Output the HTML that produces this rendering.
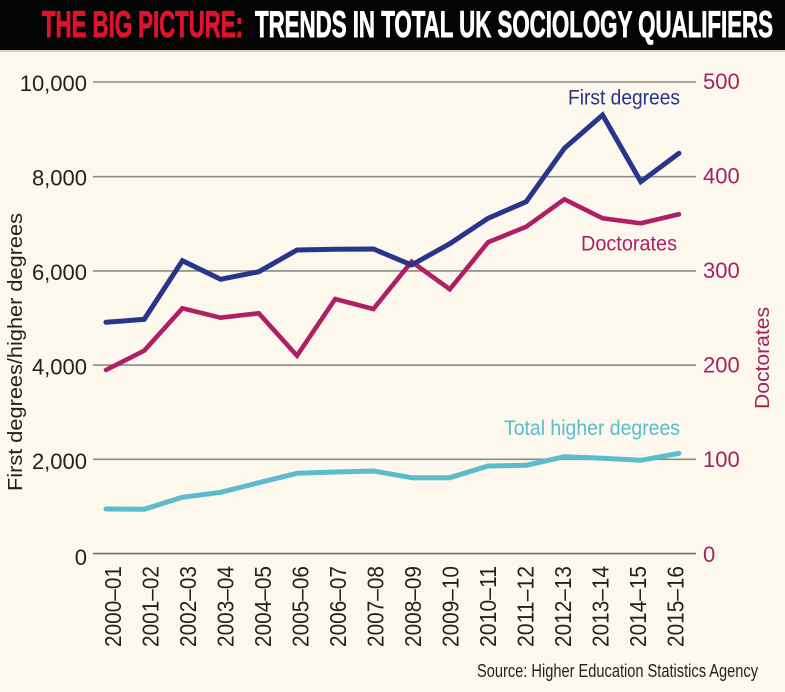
<!DOCTYPE html>
<html><head><meta charset="utf-8"><style>
html,body{margin:0;padding:0;background:#fcf8ee;}
svg{display:block;}
</style></head><body>
<svg width="785" height="692" viewBox="0 0 785 692" xmlns="http://www.w3.org/2000/svg">
<rect x="0" y="0" width="785" height="692" fill="#fcf8ee"/>
<rect x="0" y="0" width="785" height="50" fill="#050505"/>
<rect x="0" y="50" width="785" height="2" fill="#d6cfbf"/>
<text x="42" y="37" font-family="Liberation Sans, sans-serif" font-weight="bold" font-size="37" fill="#e3112c" stroke="#e3112c" stroke-width="0.9" textLength="201" lengthAdjust="spacingAndGlyphs">THE BIG PICTURE:</text>
<text x="255" y="37" font-family="Liberation Sans, sans-serif" font-weight="bold" font-size="37" fill="#ffffff" stroke="#ffffff" stroke-width="0.9" textLength="518" lengthAdjust="spacingAndGlyphs">TRENDS IN TOTAL UK SOCIOLOGY QUALIFIERS</text>

<g stroke="#8c8a86" stroke-width="1.6">
<line x1="93" y1="82" x2="696" y2="82"/>
<line x1="93" y1="176.7" x2="696" y2="176.7"/>
<line x1="93" y1="270.9" x2="696" y2="270.9"/>
<line x1="93" y1="365.1" x2="696" y2="365.1"/>
<line x1="93" y1="459.3" x2="696" y2="459.3"/>
<line x1="93" y1="553.6" x2="696" y2="553.6" stroke="#6e6c68"/>
</g>

<g font-family="Liberation Sans, sans-serif" font-size="22" fill="#231f20" text-anchor="end">
<text x="87" y="91">10,000</text>
<text x="87" y="185.5">8,000</text>
<text x="87" y="280">6,000</text>
<text x="87" y="374.5">4,000</text>
<text x="87" y="469">2,000</text>
<text x="87" y="565">0</text>
</g>
<g font-family="Liberation Sans, sans-serif" font-size="22" fill="#a4235e">
<text x="703" y="89">500</text>
<text x="703" y="183.5">400</text>
<text x="703" y="278">300</text>
<text x="703" y="372.5">200</text>
<text x="703" y="467">100</text>
<text x="703" y="562">0</text>
</g>

<text transform="translate(22,352) rotate(-90)" text-anchor="middle" font-family="Liberation Sans, sans-serif" font-size="20" fill="#231f20" textLength="278" lengthAdjust="spacingAndGlyphs">First degrees/higher degrees</text>
<text transform="translate(769,358) rotate(-90)" text-anchor="middle" font-family="Liberation Sans, sans-serif" font-size="20" fill="#a4235e" textLength="102" lengthAdjust="spacingAndGlyphs">Doctorates</text>

<polyline fill="none" stroke="#5bbccb" stroke-width="5" stroke-linecap="round" stroke-linejoin="round"
points="106,509 144.2,509.3 182.4,497.3 220.6,492.3 258.8,482.7 297,473.3 335.2,472 373.4,471 411.6,477.7 449.8,477.7 488,466 526.2,465.3 564.4,456.7 602.6,458.3 640.8,460.3 679,453.3"/>
<polyline fill="none" stroke="#b01f63" stroke-width="4.6" stroke-linecap="round" stroke-linejoin="miter" stroke-miterlimit="3"
points="106,370 144.2,350.7 182.4,308.3 220.6,317.7 258.8,313.3 297,355.7 335.2,299 373.4,309 411.6,261.7 449.8,289.3 488,242.3 526.2,226.7 564.4,199.3 602.6,218.3 640.8,223.3 679,214.3"/>
<polyline fill="none" stroke="#283689" stroke-width="5" stroke-linecap="round" stroke-linejoin="miter" stroke-miterlimit="3"
points="106,322.3 144.2,319.3 182.4,260.7 220.6,279.3 258.8,271.7 297,250 335.2,249.3 373.4,249 411.6,265 449.8,243.7 488,218.3 526.2,201.7 564.4,148.3 602.6,115 640.8,181.7 679,153.3"/>

<text x="568" y="104.5" font-family="Liberation Sans, sans-serif" font-size="21" fill="#283689" textLength="112" lengthAdjust="spacingAndGlyphs">First degrees</text>
<text x="581" y="250.5" font-family="Liberation Sans, sans-serif" font-size="21" fill="#b01f63" textLength="96" lengthAdjust="spacingAndGlyphs">Doctorates</text>
<text x="504" y="435" font-family="Liberation Sans, sans-serif" font-size="21" fill="#5bbccb" textLength="176" lengthAdjust="spacingAndGlyphs">Total higher degrees</text>

<g font-family="Liberation Sans, sans-serif" font-size="23" fill="#231f20" text-anchor="end">
<text transform="translate(121,566) rotate(-90)" textLength="81" lengthAdjust="spacingAndGlyphs">2000–01</text>
<text transform="translate(158.5,566) rotate(-90)" textLength="81" lengthAdjust="spacingAndGlyphs">2001–02</text>
<text transform="translate(196,566) rotate(-90)" textLength="81" lengthAdjust="spacingAndGlyphs">2002–03</text>
<text transform="translate(233.5,566) rotate(-90)" textLength="81" lengthAdjust="spacingAndGlyphs">2003–04</text>
<text transform="translate(271,566) rotate(-90)" textLength="81" lengthAdjust="spacingAndGlyphs">2004–05</text>
<text transform="translate(308.5,566) rotate(-90)" textLength="81" lengthAdjust="spacingAndGlyphs">2005–06</text>
<text transform="translate(346,566) rotate(-90)" textLength="81" lengthAdjust="spacingAndGlyphs">2006–07</text>
<text transform="translate(383.5,566) rotate(-90)" textLength="81" lengthAdjust="spacingAndGlyphs">2007–08</text>
<text transform="translate(421,566) rotate(-90)" textLength="81" lengthAdjust="spacingAndGlyphs">2008–09</text>
<text transform="translate(458.5,566) rotate(-90)" textLength="81" lengthAdjust="spacingAndGlyphs">2009–10</text>
<text transform="translate(496,566) rotate(-90)" textLength="81" lengthAdjust="spacingAndGlyphs">2010–11</text>
<text transform="translate(533.5,566) rotate(-90)" textLength="81" lengthAdjust="spacingAndGlyphs">2011–12</text>
<text transform="translate(571,566) rotate(-90)" textLength="81" lengthAdjust="spacingAndGlyphs">2012–13</text>
<text transform="translate(608.5,566) rotate(-90)" textLength="81" lengthAdjust="spacingAndGlyphs">2013–14</text>
<text transform="translate(646,566) rotate(-90)" textLength="81" lengthAdjust="spacingAndGlyphs">2014–15</text>
<text transform="translate(683.5,566) rotate(-90)" textLength="81" lengthAdjust="spacingAndGlyphs">2015–16</text>
</g>

<text x="477" y="677" font-family="Liberation Sans, sans-serif" font-size="18" fill="#231f20" textLength="281" lengthAdjust="spacingAndGlyphs">Source: Higher Education Statistics Agency</text>
</svg>
</body></html>
